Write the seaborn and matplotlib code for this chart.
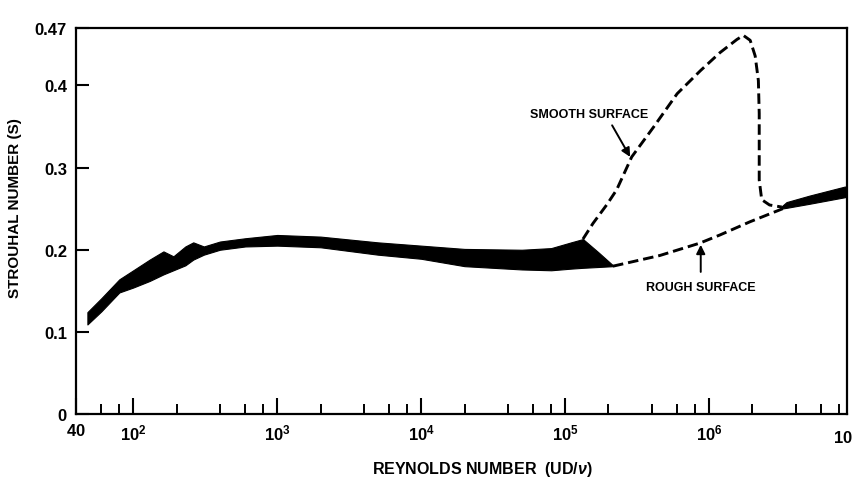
import numpy as np
import pandas as pd
import matplotlib
matplotlib.use("Agg")
import matplotlib.pyplot as plt
from matplotlib.ticker import FixedLocator, NullFormatter
import seaborn as sns

# ---------------- data ----------------
band_re = [48, 60, 80, 100, 130, 162, 190, 230, 261, 309, 400, 600, 1000,
           2000, 5000, 1e4, 2e4, 5e4, 8e4, 1.1e5, 1.33e5, 1.7e5, 2.15e5]
band_lo = [0.109, 0.125, 0.148, 0.154, 0.162, 0.170, 0.175, 0.181, 0.188,
           0.194, 0.200, 0.204, 0.205, 0.203, 0.194, 0.189, 0.180, 0.176,
           0.175, 0.177, 0.178, 0.179, 0.180]
band_hi = [0.124, 0.141, 0.164, 0.175, 0.188, 0.198, 0.192, 0.204, 0.209,
           0.204, 0.210, 0.214, 0.218, 0.216, 0.209, 0.205, 0.201, 0.200,
           0.202, 0.209, 0.213, 0.197, 0.181]

rband_re = [3.15e6, 3.45e6, 5e6, 8.8e6]
rband_lo = [0.250, 0.251, 0.256, 0.264]
rband_hi = [0.252, 0.258, 0.266, 0.277]

smooth_re = [1.33e5, 1.56e5, 1.95e5, 2.28e5, 2.9e5, 4.1e5, 6.0e5, 8.7e5,
             1.19e6, 1.56e6, 1.73e6, 1.93e6, 2.09e6, 2.20e6, 2.23e6, 2.23e6,
             2.23e6, 2.32e6, 2.63e6, 3.2e6]
smooth_s = [0.213, 0.232, 0.255, 0.273, 0.313, 0.349, 0.390, 0.418,
            0.440, 0.456, 0.461, 0.455, 0.436, 0.406, 0.366, 0.317,
            0.285, 0.261, 0.2545, 0.252]

rough_re = [2.15e5, 4.55e5, 8.6e5, 1.19e6, 1.92e6, 3.25e6]
rough_s = [0.180, 0.193, 0.208, 0.218, 0.234, 0.250]

x_major = [40, 1e2, 1e3, 1e4, 1e5, 1e6]
x_major_labels = [r"$\mathbf{40}$", r"$\mathbf{10^{2}}$", r"$\mathbf{10^{3}}$",
                  r"$\mathbf{10^{4}}$", r"$\mathbf{10^{5}}$", r"$\mathbf{10^{6}}$"]
y_ticks = [0, 0.1, 0.2, 0.3, 0.4, 0.47]
y_tick_labels = ["0", "0.1", "0.2", "0.3", "0.4", "0.47"]

# ---------------- style ----------------
sns.set_theme(style="ticks")
plt.rcParams["font.family"] = ["Liberation Sans", "DejaVu Sans"]
plt.rcParams["font.weight"] = "bold"
plt.rcParams["text.color"] = "black"
plt.rcParams["mathtext.fontset"] = "custom"
plt.rcParams["mathtext.rm"] = "Liberation Sans:weight=bold"
plt.rcParams["mathtext.bf"] = "Liberation Sans:weight=bold"
plt.rcParams["mathtext.it"] = "Liberation Sans:italic"

fig = plt.figure(figsize=(8.52, 4.85), dpi=100)
ax = fig.add_axes([76 / 852, 1 - 415 / 485, (847 - 76) / 852, (415 - 29) / 485])

# bands
ax.fill_between(band_re, band_lo, band_hi, color="black", linewidth=0.8, edgecolor="black")
ax.fill_between(rband_re, rband_lo, rband_hi, color="black", linewidth=0.8, edgecolor="black")

dash = (0, (3.6, 1.7))
smooth_df = pd.DataFrame({"Re": smooth_re, "S": smooth_s})
rough_df = pd.DataFrame({"Re": rough_re, "S": rough_s})
sns.lineplot(data=smooth_df, x="Re", y="S", sort=False, estimator=None,
             color="black", linewidth=2.1, linestyle=dash, ax=ax)
sns.lineplot(data=rough_df, x="Re", y="S", sort=False, estimator=None,
             color="black", linewidth=2.1, linestyle=dash, ax=ax)

ax.set_xscale("log")
ax.set_xlim(40, 9.08e6)
ax.set_ylim(0, 0.47)

ax.xaxis.set_major_locator(FixedLocator(x_major))
ax.set_xticklabels(x_major_labels)
minor = [m * 10 ** d for d in range(1, 7) for m in (2, 4, 6, 8)]
minor = [v for v in minor if 40 < v < 9.08e6]
ax.xaxis.set_minor_locator(FixedLocator(minor))
ax.xaxis.set_minor_formatter(NullFormatter())
ax.set_yticks(y_ticks)
ax.set_yticklabels(y_tick_labels)

ax.tick_params(axis="x", which="major", direction="in", length=11.5, width=1.5,
               labelsize=12, pad=6, color="black", labelcolor="black")
ax.tick_params(axis="x", which="minor", direction="in", length=7, width=1.4, color="black")
ax.tick_params(axis="y", which="major", direction="in", length=9.5, width=1.5,
               labelsize=12, pad=6.5, color="black", labelcolor="black")
for lab in ax.get_xticklabels() + ax.get_yticklabels():
    lab.set_fontweight("bold")

for sp in ax.spines.values():
    sp.set_visible(True)
    sp.set_linewidth(1.6)
    sp.set_color("black")

ax.set_xlabel("")
ax.set_ylabel("")

# 10^7 label at the right edge (partly outside the picture, as in the reference)
ax.annotate(r"$\mathbf{10^{7}}$", xy=(1e7, 0), xycoords=("data", "axes fraction"),
            xytext=(-5, -8.5), textcoords="offset points", ha="center", va="top",
            fontsize=12, annotation_clip=False)

# annotations
ax.text(1.47e5, 0.365, "SMOOTH SURFACE", fontsize=9, fontweight="bold",
        ha="center", va="center")
ax.annotate("", xy=(2.83e5, 0.313), xytext=(2.12e5, 0.3515),
            arrowprops=dict(arrowstyle="-|>", color="black", lw=1.4,
                            mutation_scale=13, shrinkA=0, shrinkB=0))
ax.text(8.8e5, 0.155, "ROUGH SURFACE", fontsize=9, fontweight="bold",
        ha="center", va="center")
ax.annotate("", xy=(8.75e5, 0.206), xytext=(8.75e5, 0.173),
            arrowprops=dict(arrowstyle="-|>", color="black", lw=1.4,
                            mutation_scale=13, shrinkA=0, shrinkB=0))

fig.text(15 / 852, 1 - 208 / 485, "STROUHAL NUMBER (S)", rotation=90,
         ha="center", va="center", fontsize=11, fontweight="bold")
fig.text(482 / 852, 1 - 470 / 485, r"REYNOLDS NUMBER  (UD/$\nu$)",
         ha="center", va="center", fontsize=11.5, fontweight="bold")

fig.savefig("out.png", dpi=100, facecolor="white")
